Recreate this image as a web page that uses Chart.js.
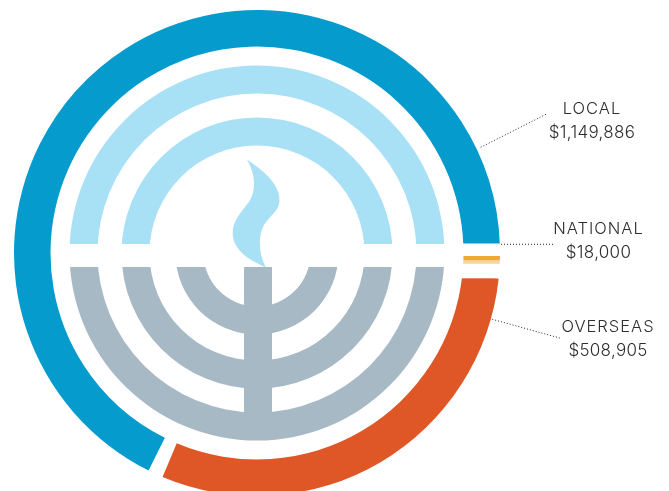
<!DOCTYPE html>
<html>
<head>
<meta charset="utf-8">
<style>
  html, body { margin: 0; padding: 0; background: #fff; overflow: hidden; width: 669px; height: 491px; }
  canvas { display: block; }
</style>
<script src="https://cdn.jsdelivr.net/npm/chart.js@4/dist/chart.umd.min.js"></script>
</head>
<body>
<canvas id="chart" width="669" height="506"></canvas>
<script>
// data
const categories = ['LOCAL', 'NATIONAL', 'OVERSEAS'];
const amounts = [1149886, 18000, 508905];
const amountLabels = ['$1,149,886', '$18,000', '$508,905'];

// the white gaps in the outer ring, in the same units as the slices
const gapAfterLocal = 9190;
const gapAfterNational = 11050;
const gapAfterOverseas = 17290;

const BLUE = '#069bcd';
const ORANGE = '#e05727';
const LIGHT = '#a8e0f5';
const GREY = '#a7b9c5';
const YELLOW = '#edab36';
const NONE = 'rgba(0,0,0,0)';
const TEXT = '#2e2e2e';

const canvas = document.getElementById('chart');
const ctx2d = canvas.getContext('2d');

// national slice only shows as a thin strip with a pale lower edge
const strip = ctx2d.createLinearGradient(0, 250, 0, 270);
strip.addColorStop(0, '#ffffff');
strip.addColorStop(0.285, '#ffffff');
strip.addColorStop(0.29, YELLOW);
strip.addColorStop(0.5, YELLOW);
strip.addColorStop(0.52, '#f3cf8f');
strip.addColorStop(0.7, '#f6dfb6');
strip.addColorStop(0.705, '#ffffff');
strip.addColorStop(1, '#ffffff');

const ringValues = [amounts[0], gapAfterLocal, amounts[1], gapAfterNational, amounts[2], gapAfterOverseas];
const ringColors = [BLUE, NONE, strip, NONE, ORANGE, NONE];

function spacer(weight) {
  return { data: [1], backgroundColor: [NONE], borderWidth: 0, weight: weight };
}
function halves(top, bottom, weight) {
  return { data: [1, 1], backgroundColor: [top, bottom], borderWidth: 0, rotation: -90, weight: weight };
}

// label, line start, line end, text centre, first baseline
const callouts = [
  { line: [480.7, 147.3, 546, 114.3], x: 592, y: 114 },
  { line: [501, 244.3, 553.3, 244.3], x: 598.5, y: 234 },
  { line: [492.3, 319.3, 560.7, 338.3], x: 608, y: 332 }
];

// white band across the rings, flat cuts at the right, stem and flame
const menorah = {
  id: 'menorah',
  afterDatasetsDraw(chart) {
    const c = chart.ctx;
    c.save();
    c.fillStyle = '#ffffff';
    c.fillRect(60, 244, 395, 23);
    c.fillRect(458, 243.5, 46, 9);
    c.fillRect(458, 268, 46, 10.3);

    c.fillStyle = GREY;
    c.fillRect(244, 267, 28, 147);

    c.fillStyle = LIGHT;
    c.beginPath();
    c.moveTo(247, 159.5);
    c.bezierCurveTo(262, 170, 279.5, 183, 279.5, 200);
    c.bezierCurveTo(279.5, 210, 272, 214, 266, 222);
    c.bezierCurveTo(260, 230, 259.5, 240, 260, 246);
    c.bezierCurveTo(260.5, 255, 263, 262, 266, 267.5);
    c.bezierCurveTo(252, 261, 233, 252, 232.7, 233);
    c.bezierCurveTo(232.5, 220, 243, 210, 249, 202);
    c.bezierCurveTo(255, 193, 257, 177, 247, 159.5);
    c.closePath();
    c.fill();
    c.restore();
  }
};

const labels = {
  id: 'callouts',
  afterDraw(chart) {
    const c = chart.ctx;
    c.save();
    c.strokeStyle = '#222222';
    c.lineWidth = 1;
    c.setLineDash([1, 2]);
    c.fillStyle = TEXT;
    c.textAlign = 'center';
    c.textBaseline = 'alphabetic';
    callouts.forEach((o, i) => {
      c.beginPath();
      c.moveTo(o.line[0], o.line[1]);
      c.lineTo(o.line[2], o.line[3]);
      c.stroke();
      c.font = '300 16.5px Inter, Lato, sans-serif';
      c.letterSpacing = '1px';
      c.fillText(categories[i], o.x, o.y);
      c.font = '300 17px Inter, Lato, sans-serif';
      c.letterSpacing = '0.3px';
      c.fillText(amountLabels[i], o.x, o.y + 24);
    });
    c.restore();
  }
};

new Chart(canvas, {
  type: 'doughnut',
  data: {
    labels: ['Local', '', 'National', '', 'Overseas', ''],
    datasets: [
      { data: ringValues, backgroundColor: ringColors, borderWidth: 0, weight: 36.5 },
      spacer(19),
      halves(LIGHT, GREY, 28),
      spacer(24),
      halves(LIGHT, GREY, 28),
      spacer(26),
      halves(NONE, GREY, 28)
    ]
  },
  options: {
    responsive: false,
    animation: false,
    cutout: 53.5,
    rotation: 206.5,
    layout: { padding: { left: 14, right: 169, top: 10, bottom: 10 } },
    plugins: { legend: { display: false }, tooltip: { enabled: false } }
  },
  plugins: [menorah, labels]
});
</script>
</body>
</html>
